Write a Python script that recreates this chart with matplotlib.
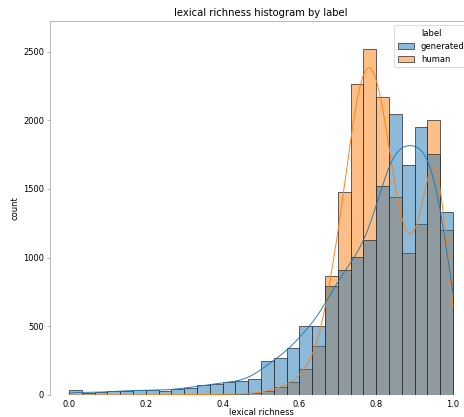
import numpy as np
import pandas as pd
import matplotlib
matplotlib.use("Agg")
import matplotlib.pyplot as plt
import seaborn as sns

# 30 equal-width bins over [0, 1]
n_bins = 30
bin_range = (0.0, 1.0)
bin_edges = np.linspace(bin_range[0], bin_range[1], n_bins + 1)
bin_centers = (bin_edges[:-1] + bin_edges[1:]) / 2

labels = ["generated", "human"]

generated_counts = [36, 11, 20, 28, 30, 36, 36, 30, 46, 53,
                    72, 80, 97, 100, 115, 248, 268, 344, 505, 505,
                    792, 908, 1005, 1131, 1519, 2042, 1672, 1948, 1757, 1330]
human_counts = [0, 0, 0, 0, 0, 1, 1, 1, 2, 2,
                2, 4, 5, 7, 12, 29, 56, 92, 187, 359,
                867, 1475, 2262, 2522, 2172, 1441, 1037, 1243, 1999, 1204]

df = pd.DataFrame({
    "lexical richness": np.concatenate([bin_centers, bin_centers]),
    "count": generated_counts + human_counts,
    "label": np.repeat(labels, len(bin_centers)),
})

spine_gray = "0.6"

fig = plt.figure(figsize=(464 / 60, 417 / 60), dpi=60)
ax = fig.add_axes([49.8 / 464, 22 / 417, 422.4 / 464, 373.7 / 417])
sns.histplot(
    data=df, x="lexical richness", weights="count", hue="label",
    bins=n_bins, binrange=bin_range, kde=True,
    kde_kws={"bw_method": 0.22, "cut": 1, "clip": bin_range},
    line_kws={"linewidth": 1.1},
    edgecolor="0.2", linewidth=0.9,
    ax=ax,
)
ax.set_ylim(0, 2720)
ax.set_title("lexical richness histogram by label")
ax.set_ylabel("count")
ax.set_xlabel("lexical richness", labelpad=-1.5)

ax.spines["bottom"].set_visible(False)
for side in ("left", "top", "right"):
    ax.spines[side].set_color(spine_gray)
ax.tick_params(axis="x", color="none", pad=2.5)
ax.tick_params(axis="y", color=spine_gray)

sns.move_legend(ax, "upper right")
fig.savefig("out.png", dpi=60)
